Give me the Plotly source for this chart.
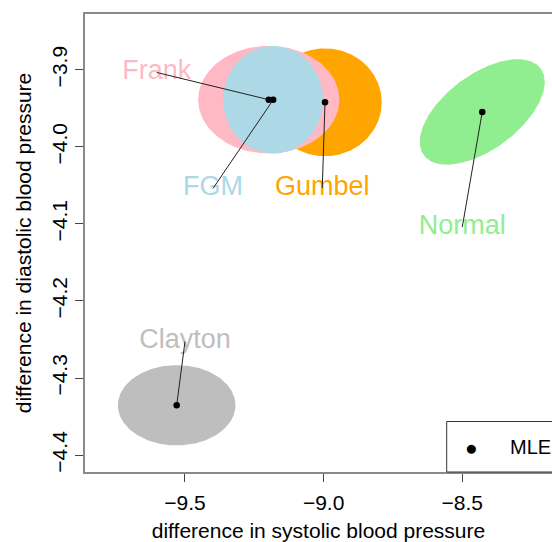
import numpy as np
import plotly.graph_objects as go

# ---- data ----
models = ["Clayton", "Normal", "Gumbel", "Frank", "FGM"]
colors = ["#BEBEBE", "#90EE90", "#FFA500", "#FFB9C4", "#ADD8E6"]
mle_x = [-9.530, -8.428, -8.995, -9.198, -9.182]
mle_y = [-4.3354, -3.9547, -3.9422, -3.9388, -3.9390]
half_w = [0.212, 0.2254, 0.2045, 0.2547, 0.1803]
half_h = [0.0521, 0.0685, 0.0700, 0.0698, 0.0698]
corr = [0.0, 0.566, 0.0, 0.0, 0.0]
label_x = [-9.500, -8.500, -9.005, -9.602, -9.399]
label_y = [-4.2527, -4.1040, -4.0535, -3.9035, -4.0540]

x_ticks = [-9.5, -9.0, -8.5]
x_ticklabels = ["\u22129.5", "\u22129.0", "\u22128.5"]
y_ticks = [-3.9, -4.0, -4.1, -4.2, -4.3, -4.4]
y_ticklabels = ["\u22123.9", "\u22124.0", "\u22124.1", "\u22124.2", "\u22124.3", "\u22124.4"]
x_range = [-9.8606, -8.1765]
y_range = [-4.4220, -3.8276]

FONT = "Liberation Sans, Arial, sans-serif"

fig = go.Figure()

# ellipses
t = np.linspace(0, 2 * np.pi, 240)
for name, col, cx, cy, sx, sy, r in zip(models, colors, mle_x, mle_y, half_w, half_h, corr):
    ex = cx + sx * np.cos(t)
    ey = cy + sy * (r * np.cos(t) + np.sqrt(1 - r * r) * np.sin(t))
    fig.add_trace(go.Scatter(x=ex, y=ey, mode="lines", fill="toself",
                             fillcolor=col, line=dict(width=0, color=col),
                             hoverinfo="skip", showlegend=False, name=name))

# labels
fig.add_trace(go.Scatter(x=label_x, y=label_y, mode="text", text=models,
                         textposition="middle center",
                         textfont=dict(family=FONT, size=27, color=colors),
                         hoverinfo="skip", showlegend=False))

# leader lines
lx, ly = [], []
for a, b, c, d in zip(label_x, label_y, mle_x, mle_y):
    lx += [a, c, None]
    ly += [b, d, None]
fig.add_trace(go.Scatter(x=lx, y=ly, mode="lines", line=dict(color="#222222", width=1),
                         hoverinfo="skip", showlegend=False))

# MLE points
fig.add_trace(go.Scatter(x=mle_x, y=mle_y, mode="markers", name="MLE",
                         marker=dict(color="black", size=6.5), showlegend=False))

# manual legend (box runs off the right edge like the reference)
fig.add_shape(type="rect", xref="paper", yref="paper", x0=0.7745, x1=1.3, y0=0, y1=0.1102,
              line=dict(color="#333333", width=1), fillcolor="rgba(0,0,0,0)")
fig.add_annotation(xref="paper", yref="paper", x=0.828, y=0.0537, text="\u25CF",
                   showarrow=False, font=dict(family=FONT, size=21, color="black"),
                   xanchor="center", yanchor="middle")
fig.add_annotation(xref="paper", yref="paper", x=0.908, y=0.0537, text="MLE",
                   showarrow=False, font=dict(family=FONT, size=20, color="black"),
                   xanchor="left", yanchor="middle", borderpad=0)

fig.update_layout(
    width=552, height=542,
    margin=dict(l=85, r=0, t=14, b=68),
    paper_bgcolor="white", plot_bgcolor="white",
    font=dict(family=FONT, size=21, color="black"),
    xaxis=dict(range=x_range, tickvals=x_ticks, ticktext=x_ticklabels,
               showgrid=False, zeroline=False, showline=True, mirror=True,
               linecolor="#8A8A8A", linewidth=1.5, ticks="outside", ticklen=8,
               tickcolor="#444444", tickwidth=1, tickfont=dict(size=21),
               ticklabelstandoff=3,
               title=dict(text="difference in systolic blood pressure", standoff=13,
                          font=dict(size=21))),
    yaxis=dict(range=y_range, tickvals=y_ticks, ticktext=y_ticklabels,
               showgrid=False, zeroline=False, showline=True, mirror=False,
               linecolor="#8A8A8A", linewidth=1.5, ticks="outside", ticklen=8,
               tickcolor="#444444", tickwidth=1, tickangle=-90, tickfont=dict(size=21),
               title=dict(text="difference in diastolic blood pressure", standoff=10,
                          font=dict(size=21))),
)

fig.write_html("out.html")
